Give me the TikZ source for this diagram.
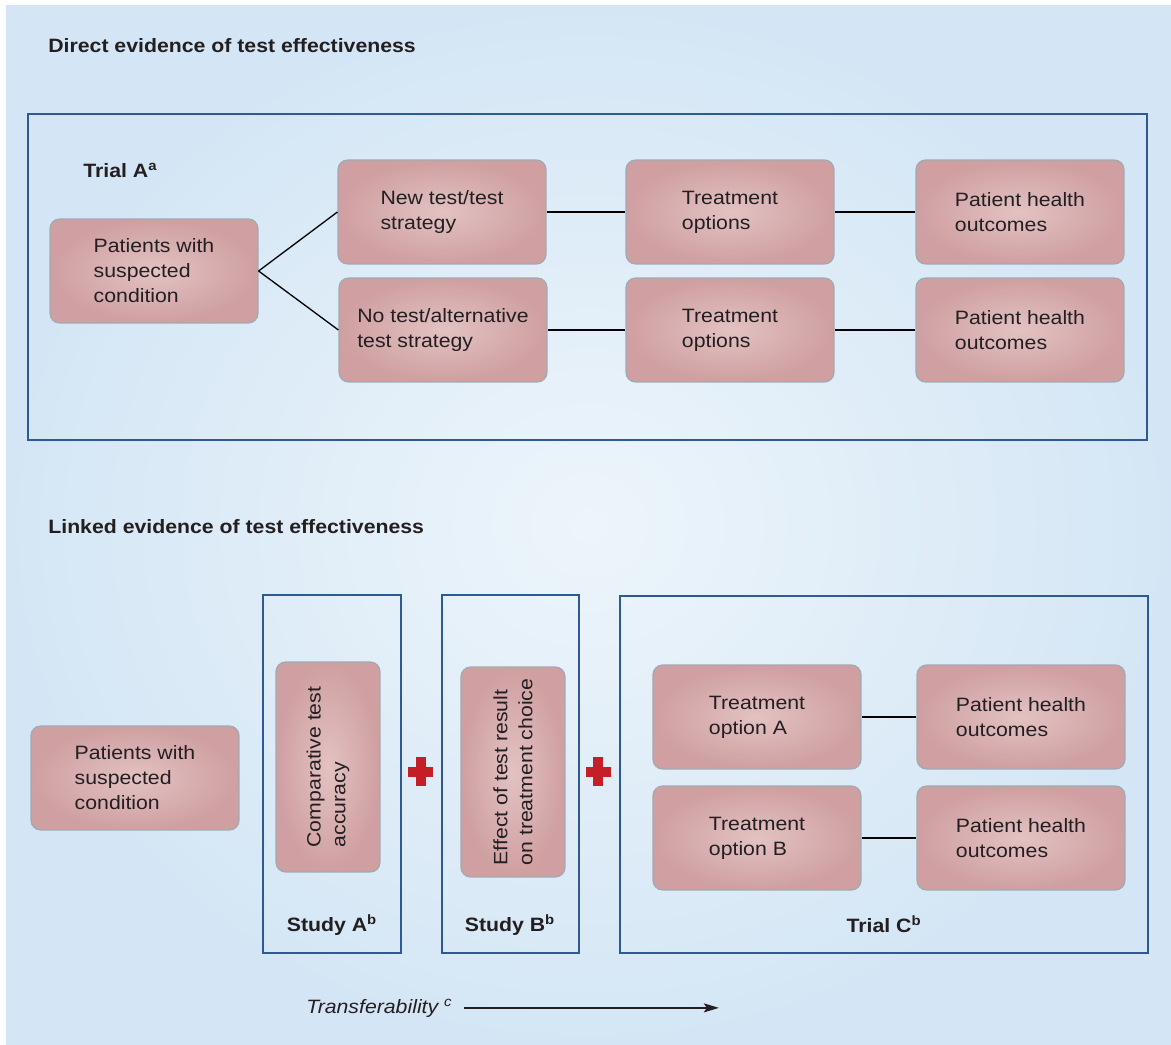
\documentclass[tikz,border=0pt]{standalone}
\usepackage{fontspec}
\setmainfont{Liberation Sans}[FakeStretch=1.1]
\usepackage{xcolor}
\usepackage{tikz}
\usetikzlibrary{arrows.meta, positioning, calc}
\definecolor{bgout}{HTML}{D4E6F5}
\definecolor{bgin}{HTML}{EDF5FB}
\definecolor{frameblue}{HTML}{2D5A95}
\definecolor{pinkout}{HTML}{CF9FA1}
\definecolor{pinkin}{HTML}{E3C2C2}
\definecolor{boxgray}{HTML}{A0AAB2}
\definecolor{plusred}{HTML}{C41E26}
\definecolor{inktext}{HTML}{231F20}
\newcommand{\boxfont}{\fontsize{11}{14.2}\selectfont}
\tikzset{
  evbox/.style={draw=boxgray, line width=0.7pt, rounded corners=5.5pt, inner color=pinkin, outer color=pinkout,
    minimum width=4.16cm, minimum height=2.08cm, align=left, text=inktext},
  vbox/.style={evbox, rotate=90, minimum width=4.2cm, minimum height=2.08cm},
  frame/.style={draw=frameblue, line width=0.8pt},
  heading/.style={anchor=west, inner sep=0pt, font=\bfseries\boxfont, text=inktext},
  link/.style={line width=0.75pt},
  transarrow/.style={-{Stealth[length=3mm, width=1.8mm, inset=0.6mm]}, line width=0.75pt, draw=inktext}
}
\newcommand{\plusmark}[3]{%
  \begin{scope}[shift={(#1,#2)}]
    \coordinate (#3) at (0,0);
    \fill[plusred] (-12.5,-5) rectangle (12.5,5);
    \fill[plusred] (-5,-14.5) rectangle (5,14.5);
  \end{scope}
}

\begin{document}
\begin{tikzpicture}[x=0.02cm, y=-0.02cm, font=\boxfont]
        % Background
        \useasboundingbox (0,0) rectangle (1171,1045);
        \fill[white] (0,0) rectangle (1171,1045);
        \shade[inner color=bgin, outer color=bgout] (6,5) rectangle (1171,1045);

        % Direct evidence
        \node[heading] (directtitle) at (48,46) {Direct evidence of test effectiveness};
        \node[frame, minimum width=22.38cm, minimum height=6.52cm] (trialA) at (587.5,277) {};
        \node[heading] (trialAlabel) at (83,170) {Trial A\textsuperscript{a}};

        \node[evbox] (patA)     at (154,271)  {Patients with\\suspected\\condition};
        \node[evbox] (newtest)  at (442,212)  {New test/test\\strategy};
        \node[evbox] (notest)   at (443,330)  {No test/alternative\\test strategy};
        \node[evbox] (treatnew) at (730,212)  {Treatment\\options};
        \node[evbox] (treatno)  at (730,330)  {Treatment\\options};
        \node[evbox] (outnew)   at (1020,212) {Patient health\\outcomes};
        \node[evbox] (outno)    at (1020,330) {Patient health\\outcomes};

        \draw[link] (patA.east) -- (newtest.west);
        \draw[link] (patA.east) -- (notest.west);
        \draw[link] (newtest) -- (treatnew);
        \draw[link] (treatnew) -- (outnew);
        \draw[link] (notest) -- (treatno);
        \draw[link] (treatno) -- (outno);

        % Linked evidence
        \node[heading] (linkedtitle) at (48,527) {Linked evidence of test effectiveness};
        \node[frame, minimum width=2.76cm, minimum height=7.16cm] (studyA) at (332,774) {};
        \node[frame, minimum width=2.74cm, minimum height=7.16cm] (studyB) at (510.5,774) {};
        \node[frame, minimum width=10.56cm, minimum height=7.14cm] (trialC) at (884,774.5) {};

        \node[evbox] (patB)     at (135,778) {Patients with\\suspected\\condition};
        \node[vbox]  (accuracy) at (328,767) {Comparative test\\accuracy};
        \node[vbox]  (choice)   at (513,772) {Effect of test result\\on treatment choice};

        \plusmark{420.5}{771.5}{plusA}
        \plusmark{598}{771.5}{plusB}

        \node[evbox] (optA) at (757,717)  {Treatment\\option A};
        \node[evbox] (outA) at (1021,717) {Patient health\\outcomes};
        \node[evbox] (optB) at (757,838)  {Treatment\\option B};
        \node[evbox] (outB) at (1021,838) {Patient health\\outcomes};

        \draw[link] (optA) -- (outA);
        \draw[link] (optB) -- (outB);

        \node[heading, anchor=center] (studyAlabel) at (332,925) {Study A\textsuperscript{b}};
        \node[heading, anchor=center] (studyBlabel) at (510,925) {Study B\textsuperscript{b}};
        \node[heading, anchor=center] (trialClabel) at (884,924) {Trial C\textsuperscript{b}};

        % Transferability
        \node[anchor=base west, inner sep=0pt, font=\boxfont\itshape, text=inktext] (transfer) at (306,1013) {Transferability \textsuperscript{c}};
        \path (transfer.east) ++(266,0) coordinate (tfend);
        \draw[transarrow] ($(transfer.east)+(11,0)$) -- (tfend);
    \end{tikzpicture}
\end{document}
